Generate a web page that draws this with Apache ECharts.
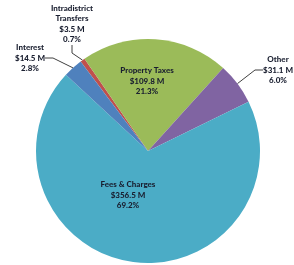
<!DOCTYPE html>
<html>
<head>
<meta charset="utf-8">
<script src="https://cdn.jsdelivr.net/npm/echarts@6/dist/echarts.min.js"></script>
<style>
  html, body { margin: 0; padding: 0; background: #fff; }
  #chart { width: 294px; height: 265px; }
</style>
</head>
<body>
<div id="chart"></div>
<script>
(function () {
  'use strict';

  // slices, clockwise from the red sliver
  var names = ['Intradistrict\nTransfers', 'Property Taxes', 'Other', 'Fees & Charges', 'Interest'];
  var values = [3.5, 109.8, 31.1, 356.5, 14.5];
  var colors = ['#C0504D', '#9BBB59', '#8064A2', '#4BACC6', '#4F81BD'];

  // label centres (px) and whether they sit inside the slice
  var labelPos = [[72, 24], [147, 81], [278, 70], [128, 195], [30, 58]];
  var inside = [false, true, false, true, false];

  var data = [];
  for (var i = 0; i < names.length; i += 1) {
    data.push({
      name: names[i],
      value: values[i],
      itemStyle: { color: colors[i] },
      label: { position: inside[i] ? 'inside' : 'outside' },
      labelLine: { show: !inside[i] }
    });
  }

  var chart = echarts.init(document.getElementById('chart'));
  chart.setOption({
    animation: false,
    series: [{
      type: 'pie',
      center: [148, 151],
      radius: 112,
      startAngle: 127,
      clockwise: true,
      avoidLabelOverlap: false,
      itemStyle: { borderWidth: 0 },
      label: {
        color: '#1a1f30',
        fontFamily: 'Lato',
        fontWeight: 900,
        fontSize: 8,
        lineHeight: 10.5,
        align: 'center',
        formatter: function (p) {
          return p.name + '\n$' + p.value.toFixed(1) + ' M\n' + p.percent.toFixed(1) + '%';
        }
      },
      labelLine: {
        length: 8,
        length2: 8,
        lineStyle: { color: '#404040', width: 1 }
      },
      labelLayout: function (p) {
        var pos = labelPos[p.dataIndex];
        return {
          x: pos[0],
          y: pos[1],
          align: 'center',
          verticalAlign: 'middle'
        };
      },
      data: data
    }]
  });
})();
</script>
</body>
</html>
